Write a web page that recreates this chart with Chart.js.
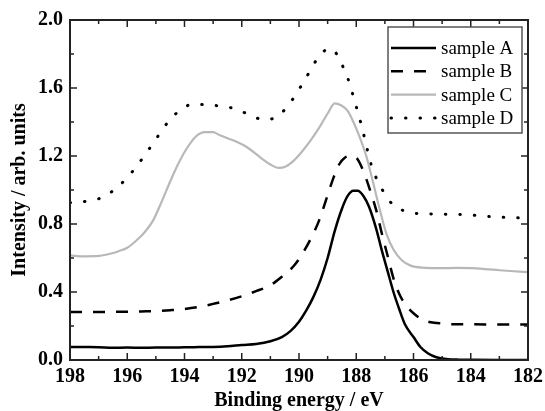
<!DOCTYPE html>
<html>
<head>
<meta charset="utf-8">
<script src="https://cdn.jsdelivr.net/npm/chart.js@4.4.1/dist/chart.umd.min.js"></script>
<style>
  body { margin: 0; background: #fff; }
  #wrap { width: 545px; height: 411px; }
</style>
</head>
<body>
<div id="wrap"><canvas id="xps" width="545" height="411"></canvas></div>
<script>
// binding energy ticks and intensity ticks
var xTickValues = [198, 196, 194, 192, 190, 188, 186, 184, 182];
var yTickValues = [0, 0.4, 0.8, 1.2, 1.6, 2.0];

var seriesNames = ['sample A', 'sample B', 'sample C', 'sample D'];

// sample A
var energyA = [198, 197.5, 197, 196.5, 196, 195.5, 195, 194.5, 194, 193.5, 193, 192.5, 192, 191.5, 191, 190.6, 190.3, 190, 189.75, 189.5, 189.25, 189, 188.75, 188.5, 188.3, 188.1, 187.95, 187.75, 187.55, 187.3, 187.1, 186.9, 186.7, 186.5, 186.3, 186, 185.75, 185.5, 185.2, 184.8, 184.4, 184, 183, 182];
var intensityA = [0.077, 0.076, 0.075, 0.072, 0.073, 0.072, 0.073, 0.073, 0.075, 0.076, 0.077, 0.081, 0.088, 0.094, 0.11, 0.135, 0.17, 0.225, 0.29, 0.37, 0.47, 0.6, 0.76, 0.89, 0.965, 0.995, 0.995, 0.965, 0.9, 0.77, 0.64, 0.52, 0.4, 0.3, 0.21, 0.135, 0.075, 0.04, 0.016, 0.005, 0.002, 0.001, 0, 0];

// sample B
var energyB = [198, 197.5, 197, 196.5, 196, 195.5, 195, 194.5, 194, 193.5, 193, 192.5, 192, 191.5, 191, 190.6, 190.2, 189.9, 189.6, 189.3, 189, 188.8, 188.6, 188.4, 188.15, 187.95, 187.75, 187.5, 187.3, 187.1, 186.9, 186.7, 186.5, 186.3, 186, 185.7, 185.4, 185, 184.5, 184, 183, 182];
var intensityB = [0.282, 0.282, 0.282, 0.283, 0.284, 0.286, 0.288, 0.293, 0.3, 0.312, 0.33, 0.35, 0.375, 0.405, 0.44, 0.49, 0.55, 0.62, 0.71, 0.82, 0.97, 1.07, 1.15, 1.19, 1.2, 1.18, 1.11, 0.99, 0.88, 0.74, 0.61, 0.48, 0.39, 0.33, 0.275, 0.238, 0.222, 0.215, 0.21, 0.21, 0.209, 0.209];

// sample C
var energyC = [198, 197.5, 197, 196.6, 196.3, 196, 195.7, 195.4, 195.1, 194.8, 194.5, 194.2, 193.9, 193.6, 193.3, 193, 192.8, 192.5, 192.2, 191.9, 191.6, 191.3, 191, 190.7, 190.5, 190.2, 189.9, 189.6, 189.3, 189, 188.75, 188.55, 188.3, 188.1, 187.9, 187.65, 187.45, 187.2, 186.95, 186.7, 186.4, 186.1, 185.7, 185, 184.5, 184, 183.5, 183, 182.5, 182];
var intensityC = [0.615, 0.61, 0.612, 0.625, 0.64, 0.66, 0.7, 0.75, 0.82, 0.93, 1.05, 1.16, 1.25, 1.315, 1.34, 1.34, 1.325, 1.305, 1.285, 1.26, 1.225, 1.185, 1.15, 1.13, 1.135, 1.17, 1.225, 1.29, 1.365, 1.45, 1.51, 1.5, 1.465, 1.4, 1.32, 1.2, 1.07, 0.9, 0.745, 0.65, 0.585, 0.555, 0.543, 0.54, 0.542, 0.54, 0.535, 0.528, 0.522, 0.517];

// sample D
var energyD = [198, 197.5, 197, 196.5, 196, 195.6, 195.25, 194.9, 194.55, 194.15, 193.7, 193.2, 192.7, 192.2, 191.7, 191.2, 190.7, 190.3, 189.95, 189.65, 189.35, 189.05, 188.85, 188.65, 188.45, 188.3, 188.15, 188, 187.85, 187.7, 187.5, 187.3, 187.05, 186.7, 186.2, 185.7, 185, 184.2, 183.2, 182];
var intensityD = [0.925, 0.932, 0.948, 0.995, 1.073, 1.156, 1.238, 1.323, 1.405, 1.47, 1.505, 1.5, 1.493, 1.476, 1.44, 1.412, 1.44, 1.515, 1.605, 1.69, 1.775, 1.825, 1.83, 1.79, 1.72, 1.66, 1.578, 1.49, 1.4, 1.3, 1.16, 1.07, 0.99, 0.91, 0.872, 0.86, 0.858, 0.855, 0.842, 0.834];

function toPoints(xs, ys) {
    return xs.map(function (e, i) { return {x: e, y: ys[i]}; });
}

var serif = "'Liberation Serif', 'Times New Roman', serif";

// inward ticks on all four sides + frame
var frameTicks = {
    id: 'frameTicks',
    afterDatasetsDraw: function (chart) {
        var ctx = chart.ctx, a = chart.chartArea;
        var x = chart.scales.x, y = chart.scales.y;
        ctx.save();
        ctx.strokeStyle = '#222';
        ctx.lineWidth = 1.5;
        ctx.beginPath();
        x.ticks.forEach(function (t, i) {
            var vals = [t.value];
            if (i < x.ticks.length - 1) vals.push((t.value + x.ticks[i + 1].value) / 2);
            vals.forEach(function (v, j) {
                var px = x.getPixelForValue(v), len = j === 0 ? 7 : 4;
                ctx.moveTo(px, a.bottom); ctx.lineTo(px, a.bottom - len);
                ctx.moveTo(px, a.top); ctx.lineTo(px, a.top + len);
            });
        });
        y.ticks.forEach(function (t, i) {
            var vals = [t.value];
            if (i < y.ticks.length - 1) vals.push((t.value + y.ticks[i + 1].value) / 2);
            vals.forEach(function (v, j) {
                var py = y.getPixelForValue(v), len = j === 0 ? 7 : 4;
                ctx.moveTo(a.left, py); ctx.lineTo(a.left + len, py);
                ctx.moveTo(a.right, py); ctx.lineTo(a.right - len, py);
            });
        });
        ctx.stroke();
        ctx.lineWidth = 2;
        ctx.strokeRect(a.left, a.top, a.right - a.left, a.bottom - a.top);
        ctx.restore();
    }
};

// boxed legend in the upper right corner
var boxLegend = {
    id: 'boxLegend',
    afterDraw: function (chart) {
        var ctx = chart.ctx, a = chart.chartArea;
        var left = a.right - 140, top = a.top + 7, w = 134, h = 106;
        ctx.save();
        ctx.fillStyle = '#fff';
        ctx.fillRect(left, top, w, h);
        ctx.strokeStyle = '#555';
        ctx.lineWidth = 1.5;
        ctx.strokeRect(left, top, w, h);
        ctx.font = '19px ' + serif;
        ctx.textBaseline = 'middle';
        chart.data.datasets.forEach(function (ds, i) {
            var ry = top + 21 + i * 23.3;
            ctx.beginPath();
            ctx.strokeStyle = ds.borderColor;
            ctx.lineWidth = ds.borderWidth;
            ctx.lineCap = ds.borderCapStyle || 'butt';
            ctx.setLineDash(ds.borderDash || []);
            ctx.moveTo(left + 3, ry);
            ctx.lineTo(left + 48, ry);
            ctx.stroke();
            ctx.setLineDash([]);
            ctx.fillStyle = '#000';
            ctx.fillText(ds.label, left + 53, ry + 1);
        });
        ctx.restore();
    }
};

var chart = new Chart(document.getElementById('xps'), {
    type: 'line',
    data: {
        datasets: [{
            label: seriesNames[0],
            data: toPoints(energyA, intensityA),
            borderColor: '#000',
            borderWidth: 2.5
        }, {
            label: seriesNames[1],
            data: toPoints(energyB, intensityB),
            borderColor: '#000',
            borderWidth: 2.5,
            borderDash: [12, 11]
        }, {
            label: seriesNames[2],
            data: toPoints(energyC, intensityC),
            borderColor: '#b8b8b8',
            borderWidth: 2.2
        }, {
            label: seriesNames[3],
            data: toPoints(energyD, intensityD),
            borderColor: '#000',
            borderWidth: 3,
            borderDash: [0.5, 14],
            borderCapStyle: 'round'
        }]
    },
    options: {
        responsive: false,
        animation: false,
        devicePixelRatio: 1,
        layout: { padding: { left: 4, right: 17, top: 20, bottom: 0 } },
        elements: {
            point: { radius: 0 },
            line: { cubicInterpolationMode: 'monotone', fill: false }
        },
        plugins: {
            legend: { display: false },
            tooltip: { enabled: false }
        },
        scales: {
            x: {
                type: 'linear',
                reverse: true,
                min: 182,
                max: 198,
                afterBuildTicks: function (scale) {
                    scale.ticks = xTickValues.map(function (v) { return {value: v}; });
                },
                afterFit: function (scale) {
                    scale.height = 51;
                    scale.paddingLeft = 0;
                    scale.paddingRight = 0;
                },
                grid: { display: false, drawTicks: false },
                border: { display: false },
                ticks: {
                    padding: 5,
                    color: '#000',
                    maxRotation: 0,
                    font: { family: serif, size: 20, weight: 'bold' },
                    callback: function (v) { return v; }
                },
                title: {
                    display: true,
                    text: 'Binding energy / eV',
                    color: '#000',
                    padding: { top: 0, bottom: -2 },
                    font: { family: serif, size: 20, weight: 'bold' }
                }
            },
            y: {
                min: 0,
                max: 2,
                afterBuildTicks: function (scale) {
                    scale.ticks = yTickValues.map(function (v) { return {value: v}; });
                },
                afterFit: function (scale) {
                    scale.width = 66;
                    scale.paddingTop = 0;
                    scale.paddingBottom = 0;
                },
                grid: { display: false, drawTicks: false },
                border: { display: false },
                ticks: {
                    padding: 7,
                    color: '#000',
                    font: { family: serif, size: 20, weight: 'bold' },
                    callback: function (v) { return v.toFixed(1); }
                },
                title: {
                    display: true,
                    text: 'Intensity / arb. units',
                    color: '#000',
                    padding: { top: 4, bottom: 0 },
                    font: { family: serif, size: 20, weight: 'bold' }
                }
            }
        }
    },
    plugins: [frameTicks, boxLegend]
});
</script>
</body>
</html>
